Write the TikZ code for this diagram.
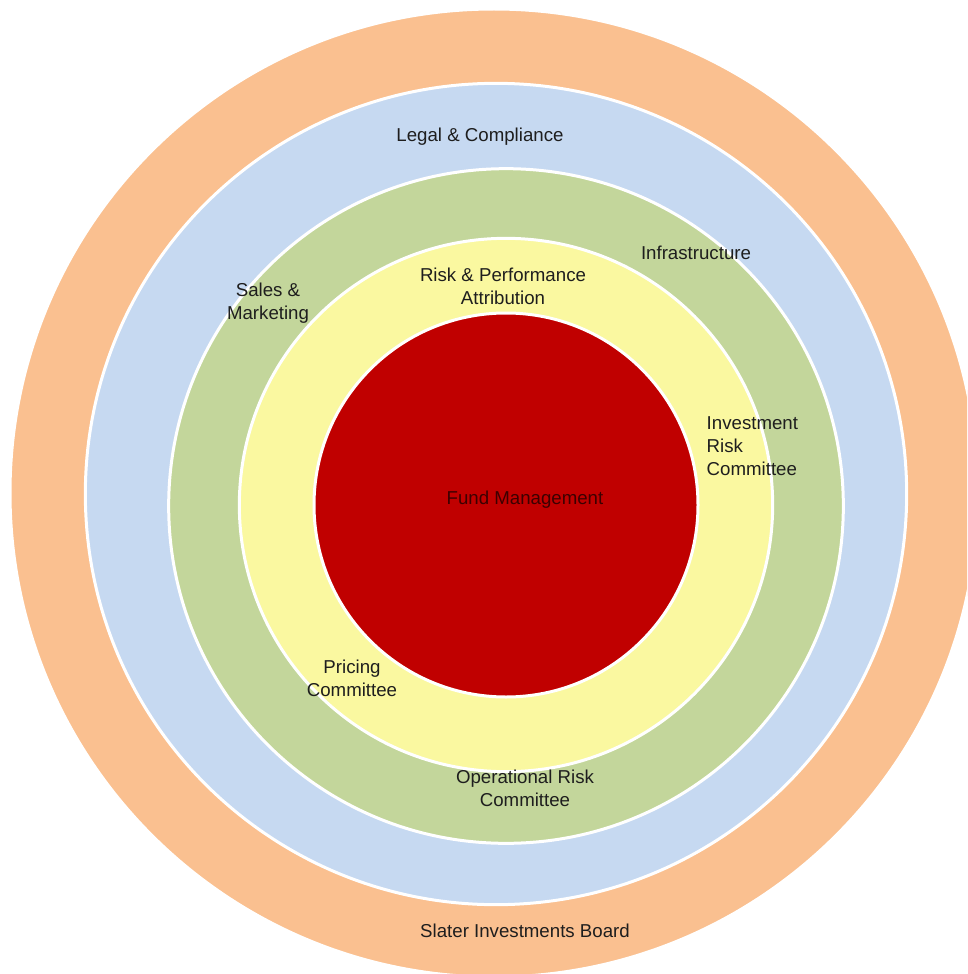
\documentclass[tikz,border=0pt]{standalone}
\usepackage{fontspec}
\setmainfont{Liberation Sans}
\usepackage{xcolor}
\definecolor{BoardOrange}{HTML}{FAC090}
\definecolor{LegalBlue}{HTML}{C6D9F1}
\definecolor{InfraGreen}{HTML}{C3D69B}
\definecolor{RiskYellow}{HTML}{FAF8A0}
\definecolor{FundRed}{HTML}{C00000}
\definecolor{TextGrey}{HTML}{1E1E1E}
\definecolor{FundText}{HTML}{3C0000}
\usepackage{tikz}
\usetikzlibrary{positioning}

\begin{document}
\begin{tikzpicture}[x=0.75pt, y=-0.75pt,
	ring/.style={circle, draw=white, line width=2.25pt, inner sep=0pt},
	ringtext/.style={text=TextGrey, align=center, font=\fontsize{14}{17.25}\selectfont}]
			\clip (0, 0) rectangle (967, 974);
			\fill[white] (0, 0) rectangle (967, 974);
			% rings, outermost first
			\node[ring, fill=BoardOrange, minimum size=726pt] (board) at (494, 493) {};
			\node[ring, fill=LegalBlue, minimum size=616pt] (legal) at (496, 494) {};
			\node[ring, fill=InfraGreen, minimum size=506pt] (infra) at (506, 506) {};
			\node[ring, fill=RiskYellow, minimum size=400pt] (risk) at (506, 505) {};
			\node[ring, fill=FundRed, minimum size=288pt] (fund) at (506, 505) {};
			% ring labels
			\node[ringtext] (boardtxt) at (525, 931) {Slater Investments Board};
			\node[ringtext] (legaltxt) at (480, 137) {Legal \& Compliance};
			\node[ringtext] (infratxt) at (696, 253) {Infrastructure};
			\node[ringtext] (salestxt) at (268, 303) {Sales \&\\Marketing};
			\node[ringtext] (opstxt) at (525, 788) {Operational Risk\\Committee};
			\node[ringtext] (perftxt) at (503, 286) {Risk \& Performance\\Attribution};
			\node[ringtext, align=left, anchor=west] (invtxt) at (702, 446) {Investment\\Risk\\Committee};
			\node[ringtext] (pricetxt) at (352, 678) {Pricing\\Committee};
			\node[ringtext, text=FundText] (fundtxt) at (525, 500) {Fund Management};
			\end{tikzpicture}
\end{document}
